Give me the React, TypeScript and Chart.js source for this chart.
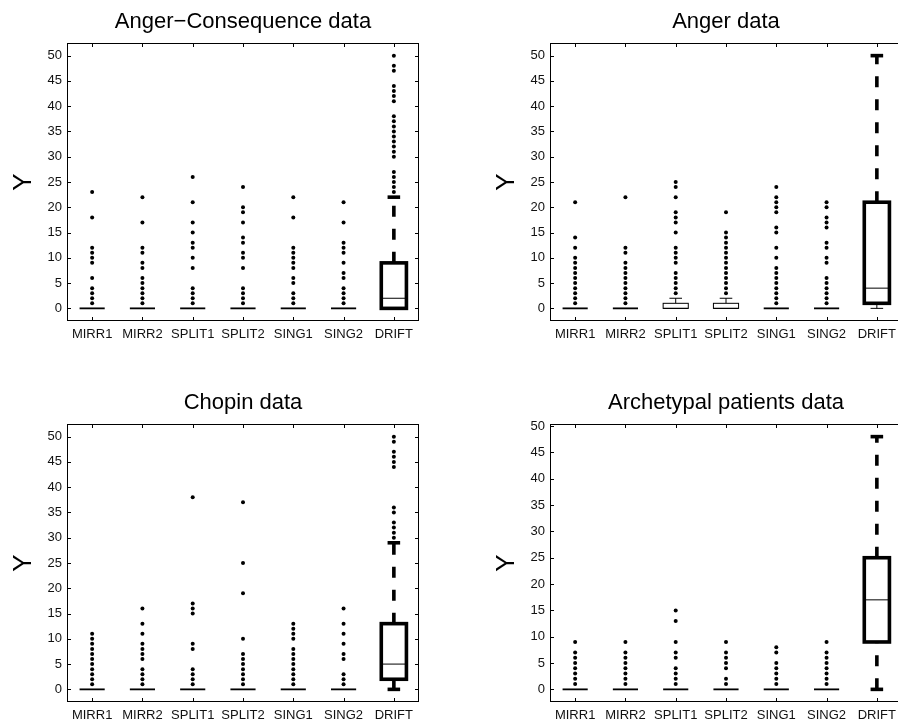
import React, { useEffect, useRef } from 'react';
import { Chart, registerables } from 'chart.js';

Chart.register(...registerables);

const FONT = '"Liberation Sans", Arial, Helvetica, sans-serif';

const CATEGORIES = ['MIRR1', 'MIRR2', 'SPLIT1', 'SPLIT2', 'SING1', 'SING2', 'DRIFT'];
const Y_TICKS = [0, 5, 10, 15, 20, 25, 30, 35, 40, 45, 50];

// Panel 1: Anger−Consequence data
const AC_Q1 = [0, 0, 0, 0, 0, 0, 0];
const AC_MEDIAN = [0, 0, 0, 0, 0, 0, 2];
const AC_Q3 = [0, 0, 0, 0, 0, 0, 9];
const AC_LOW = [0, 0, 0, 0, 0, 0, 0];
const AC_HIGH = [0, 0, 0, 0, 0, 0, 22];
const AC_OUTLIERS = [
  [1, 2, 3, 4, 6, 9, 10, 11, 12, 18, 23],
  [1, 2, 3, 4, 5, 6, 8, 9, 11, 12, 17, 22],
  [1, 2, 3, 4, 8, 10, 12, 13, 15, 17, 21, 26],
  [1, 2, 3, 4, 8, 10, 11, 13, 14, 17, 19, 20, 24],
  [1, 2, 3, 5, 6, 8, 9, 10, 11, 12, 18, 22],
  [1, 2, 3, 4, 6, 7, 9, 11, 12, 13, 17, 21],
  [23, 24, 25, 26, 27, 30, 31, 32, 33, 34, 35, 36, 37, 38, 41, 42, 43, 44, 47, 48, 50],
];

// Panel 2: Anger data
const AN_Q1 = [0, 0, 0, 0, 0, 0, 1];
const AN_MEDIAN = [0, 0, 0, 0, 0, 0, 4];
const AN_Q3 = [0, 0, 1, 1, 0, 0, 21];
const AN_LOW = [0, 0, 0, 0, 0, 0, 0];
const AN_HIGH = [0, 0, 2, 2, 0, 0, 50];
const AN_OUTLIERS = [
  [1, 2, 3, 4, 5, 6, 7, 8, 9, 10, 12, 14, 21],
  [1, 2, 3, 4, 5, 6, 7, 8, 9, 11, 12, 22],
  [3, 4, 5, 6, 7, 9, 10, 11, 12, 15, 17, 18, 19, 22, 24, 25],
  [3, 4, 5, 6, 7, 8, 9, 10, 11, 12, 13, 14, 15, 19],
  [1, 2, 3, 4, 5, 6, 7, 8, 10, 12, 15, 16, 19, 20, 21, 22, 24],
  [1, 2, 3, 4, 5, 6, 9, 10, 12, 13, 16, 17, 18, 20, 21],
  [],
];

// Panel 3: Chopin data
const CH_Q1 = [0, 0, 0, 0, 0, 0, 2];
const CH_MEDIAN = [0, 0, 0, 0, 0, 0, 5];
const CH_Q3 = [0, 0, 0, 0, 0, 0, 13];
const CH_LOW = [0, 0, 0, 0, 0, 0, 0];
const CH_HIGH = [0, 0, 0, 0, 0, 0, 29];
const CH_OUTLIERS = [
  [1, 2, 3, 4, 5, 6, 7, 8, 9, 10, 11],
  [1, 2, 3, 4, 6, 7, 8, 9, 11, 13, 16],
  [1, 2, 3, 4, 8, 9, 15, 16, 17, 38],
  [1, 2, 3, 4, 5, 6, 7, 10, 19, 25, 37],
  [1, 2, 3, 4, 5, 6, 7, 8, 10, 11, 12, 13],
  [1, 2, 3, 6, 7, 9, 11, 13, 16],
  [30, 31, 32, 33, 35, 36, 44, 45, 46, 47, 49, 50],
];

// Panel 4: Archetypal patients data
const AP_Q1 = [0, 0, 0, 0, 0, 0, 9];
const AP_MEDIAN = [0, 0, 0, 0, 0, 0, 17];
const AP_Q3 = [0, 0, 0, 0, 0, 0, 25];
const AP_LOW = [0, 0, 0, 0, 0, 0, 0];
const AP_HIGH = [0, 0, 0, 0, 0, 0, 48];
const AP_OUTLIERS = [
  [1, 2, 3, 4, 5, 6, 7, 9],
  [1, 2, 3, 4, 5, 6, 7, 9],
  [1, 2, 3, 4, 6, 7, 9, 13, 15],
  [1, 2, 4, 5, 6, 7, 9],
  [1, 2, 3, 4, 5, 7, 8],
  [1, 2, 3, 4, 5, 6, 7, 9],
  [],
];

// styles
const HIGHLIGHT = [false, false, false, false, false, false, true];
const BOX_HALF = 0.25;
const CAP_HALF = 0.125;
const THICK = 3.6;

type PanelProps = {
  title: string;
  q1: number[];
  med: number[];
  q3: number[];
  lo: number[];
  hi: number[];
  outliers: number[][];
  yMin: number;
  yMax: number;
  left: number;
  top: number;
  width: number;
  height: number;
  yAxisWidth: number;
  yTitlePad: number;
  padRight: number;
  lowerThick: boolean;
};

function Panel(p: PanelProps) {
  const ref = useRef<HTMLCanvasElement>(null);
  useEffect(() => {
    if (!ref.current) return;
    const points: { x: number; y: number }[] = [];
    p.outliers.forEach((vals, i) => vals.forEach((v) => points.push({ x: i + 1, y: v })));

    const boxPlugin = {
      id: 'boxes',
      beforeDatasetsDraw(chart: any) {
        const { ctx } = chart;
        const xs = chart.scales.x;
        const ys = chart.scales.y;
        ctx.save();
        ctx.strokeStyle = '#000';
        ctx.lineCap = 'butt';
        for (let i = 0; i < CATEGORIES.length; i++) {
          const c = i + 1;
          const thick = HIGHLIGHT[i];
          const lw = thick ? THICK : 1;
          const xl = xs.getPixelForValue(c - BOX_HALF);
          const xr = xs.getPixelForValue(c + BOX_HALF);
          const cl = xs.getPixelForValue(c - CAP_HALF);
          const cr = xs.getPixelForValue(c + CAP_HALF);
          const xc = xs.getPixelForValue(c);
          const yq1 = ys.getPixelForValue(p.q1[i]);
          const yq3 = ys.getPixelForValue(p.q3[i]);
          const ymed = ys.getPixelForValue(p.med[i]);
          const yhi = ys.getPixelForValue(p.hi[i]);
          const ylo = ys.getPixelForValue(p.lo[i]);
          if (p.hi[i] > p.q3[i]) {
            ctx.lineWidth = lw;
            ctx.setLineDash(thick ? [11, 12] : []);
            ctx.beginPath();
            ctx.moveTo(xc, yq3);
            ctx.lineTo(xc, yhi);
            ctx.stroke();
            ctx.setLineDash([]);
            ctx.beginPath();
            ctx.moveTo(cl, yhi);
            ctx.lineTo(cr, yhi);
            ctx.stroke();
          }
          if (p.lo[i] < p.q1[i]) {
            const lw2 = thick && p.lowerThick ? THICK : 1;
            ctx.lineWidth = lw2;
            ctx.setLineDash(thick ? [11, 12] : []);
            ctx.beginPath();
            ctx.moveTo(xc, ylo);
            ctx.lineTo(xc, yq1);
            ctx.stroke();
            ctx.setLineDash([]);
            ctx.beginPath();
            ctx.moveTo(cl, ylo);
            ctx.lineTo(cr, ylo);
            ctx.stroke();
          }
          if (p.q3[i] === p.q1[i]) {
            ctx.lineWidth = 1.8;
            ctx.beginPath();
            ctx.moveTo(xl, yq1);
            ctx.lineTo(xr, yq1);
            ctx.stroke();
          } else {
            ctx.fillStyle = '#fff';
            ctx.fillRect(xl, yq3, xr - xl, yq1 - yq3);
            ctx.lineWidth = lw;
            ctx.lineJoin = 'miter';
            ctx.strokeRect(xl, yq3, xr - xl, yq1 - yq3);
            ctx.lineWidth = 1;
            ctx.beginPath();
            ctx.moveTo(xl, ymed);
            ctx.lineTo(xr, ymed);
            ctx.stroke();
          }
        }
        ctx.restore();
      },
      afterDraw(chart: any) {
        const { ctx, chartArea } = chart;
        const xs = chart.scales.x;
        const ys = chart.scales.y;
        const { left, right, top, bottom } = chartArea;
        ctx.save();
        ctx.strokeStyle = '#000';
        ctx.lineWidth = 1;
        ctx.strokeRect(left + 0.5, top + 0.5, right - left - 1, bottom - top - 1);
        const tl = 4;
        ctx.beginPath();
        Y_TICKS.forEach((v) => {
          const y = Math.round(ys.getPixelForValue(v)) + 0.5;
          ctx.moveTo(left, y);
          ctx.lineTo(left + tl, y);
          ctx.moveTo(right, y);
          ctx.lineTo(right - tl, y);
        });
        CATEGORIES.forEach((_, i) => {
          const x = Math.round(xs.getPixelForValue(i + 1)) + 0.5;
          ctx.moveTo(x, bottom);
          ctx.lineTo(x, bottom - tl);
          ctx.moveTo(x, top);
          ctx.lineTo(x, top + tl);
        });
        ctx.stroke();
        ctx.restore();
      },
    };

    const chart = new Chart(ref.current, {
      type: 'scatter',
      data: {
        datasets: [
          {
            data: points,
            pointRadius: 2,
            pointHoverRadius: 2,
            backgroundColor: '#000',
            borderColor: '#000',
            borderWidth: 0,
          },
        ],
      },
      options: {
        animation: false,
        responsive: false,
        devicePixelRatio: 1,
        events: [],
        layout: { padding: { left: 0, top: 0, right: p.padRight, bottom: 0 } },
        plugins: {
          legend: { display: false },
          tooltip: { enabled: false },
          title: {
            display: true,
            fullSize: false,
            text: p.title,
            color: '#000',
            font: { family: FONT, size: 22, weight: 'normal', lineHeight: 1 },
            padding: { top: 11.4, bottom: 9.6 },
          },
        },
        scales: {
          x: {
            type: 'linear',
            min: 0.5,
            max: 7.5,
            grid: { display: false, drawTicks: false },
            border: { display: false },
            afterBuildTicks: (s: any) => {
              s.ticks = CATEGORIES.map((_, i) => ({ value: i + 1 }));
            },
            afterFit: (s: any) => {
              s.height = 25;
            },
            ticks: {
              callback: (_v: any, idx: number) => CATEGORIES[idx],
              font: { family: FONT, size: 13 },
              color: '#111',
              padding: 5.4,
              maxRotation: 0,
              autoSkip: false,
            },
          },
          y: {
            type: 'linear',
            min: p.yMin,
            max: p.yMax,
            grid: { display: false, drawTicks: false },
            border: { display: false },
            afterBuildTicks: (s: any) => {
              s.ticks = Y_TICKS.map((v) => ({ value: v }));
            },
            afterFit: (s: any) => {
              s.width = p.yAxisWidth;
            },
            title: {
              display: true,
              text: 'Y',
              color: '#000',
              font: { family: FONT, size: 26, weight: 'normal', lineHeight: 1 },
              padding: { top: p.yTitlePad, bottom: 0 },
            },
            ticks: {
              callback: (v: any) => String(v),
              font: { family: FONT, size: 13 },
              color: '#111',
              padding: 5,
              autoSkip: false,
            },
          },
        },
      },
      plugins: [boxPlugin],
    } as any);
    return () => chart.destroy();
  }, []);
  return (
    <canvas
      ref={ref}
      width={p.width}
      height={p.height}
      style={{ position: 'absolute', left: p.left, top: p.top, width: p.width, height: p.height, display: 'block' }}
    />
  );
}

export default function App() {
  return (
    <div
      style={{
        position: 'fixed',
        left: 0,
        top: 0,
        width: 898,
        height: 727,
        overflow: 'hidden',
        background: '#fff',
      }}
    >
      <Panel
        title="Anger−Consequence data"
        q1={AC_Q1}
        med={AC_MEDIAN}
        q3={AC_Q3}
        lo={AC_LOW}
        hi={AC_HIGH}
        outliers={AC_OUTLIERS}
        yMin={-2.5}
        yMax={52.5}
        left={0}
        top={0}
        width={449}
        height={346}
        yAxisWidth={67}
        yTitlePad={10.5}
        padRight={30}
        lowerThick={true}
      />
      <Panel
        title="Anger data"
        q1={AN_Q1}
        med={AN_MEDIAN}
        q3={AN_Q3}
        lo={AN_LOW}
        hi={AN_HIGH}
        outliers={AN_OUTLIERS}
        yMin={-2.5}
        yMax={52.5}
        left={449}
        top={0}
        width={480}
        height={346}
        yAxisWidth={101}
        yTitlePad={44.7}
        padRight={27}
        lowerThick={false}
      />
      <Panel
        title="Chopin data"
        q1={CH_Q1}
        med={CH_MEDIAN}
        q3={CH_Q3}
        lo={CH_LOW}
        hi={CH_HIGH}
        outliers={CH_OUTLIERS}
        yMin={-2.5}
        yMax={52.5}
        left={0}
        top={381}
        width={449}
        height={346}
        yAxisWidth={67}
        yTitlePad={10.5}
        padRight={30}
        lowerThick={true}
      />
      <Panel
        title="Archetypal patients data"
        q1={AP_Q1}
        med={AP_MEDIAN}
        q3={AP_Q3}
        lo={AP_LOW}
        hi={AP_HIGH}
        outliers={AP_OUTLIERS}
        yMin={-2.4}
        yMax={50.4}
        left={449}
        top={381}
        width={480}
        height={346}
        yAxisWidth={101}
        yTitlePad={44.7}
        padRight={27}
        lowerThick={true}
      />
    </div>
  );
}
